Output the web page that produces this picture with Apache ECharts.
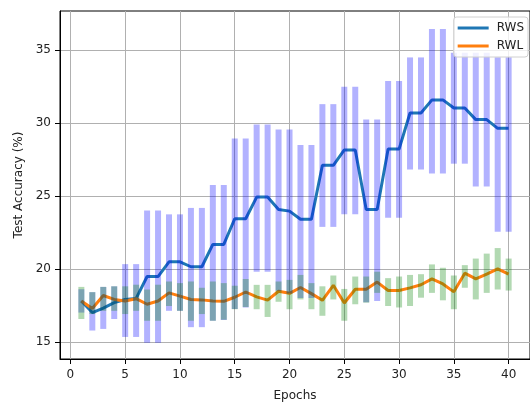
<!DOCTYPE html>
<html>
<head>
<meta charset="utf-8">
<script src="https://cdn.jsdelivr.net/npm/echarts@6/dist/echarts.min.js"></script>
<style>
html,body{margin:0;padding:0;background:#fff;}
#chart{width:530px;height:407px;}
</style>
</head>
<body>
<div id="chart"></div>
<script>
const epochs = [1,2,3,4,5,6,7,8,9,10,11,12,13,14,15,16,17,18,19,20,21,22,23,24,25,26,27,28,29,30,31,32,33,34,35,36,37,38,39,40];
const rwsMean = [17.79,17.0,17.3,17.68,17.9,17.97,19.47,19.47,20.48,20.48,20.14,20.14,21.67,21.67,23.43,23.43,24.91,24.91,24.06,23.95,23.39,23.39,27.09,27.09,28.14,28.14,24.06,24.06,28.2,28.2,30.67,30.67,31.57,31.57,31.01,31.01,30.22,30.22,29.62,29.62];
const rwsLow  = [17.0,15.77,15.88,16.56,15.33,15.33,14.93,14.93,17.12,17.12,16.0,16.0,16.44,16.5,17.25,17.35,19.8,19.8,18.5,18.3,18.0,18.0,22.87,22.87,23.73,23.73,17.7,17.8,23.5,23.5,26.8,26.8,26.53,26.53,27.2,27.2,25.63,25.63,22.54,22.54];
const rwsHigh = [18.6,18.4,18.76,18.8,20.32,20.32,24.0,24.0,23.73,23.73,24.17,24.17,25.74,25.74,28.92,28.92,29.89,29.89,29.55,29.55,28.48,28.48,31.28,31.28,32.47,32.47,30.22,30.22,32.87,32.87,34.48,34.48,36.43,36.43,34.8,34.8,34.8,34.8,34.5,34.5];
const rwlMean = [17.79,17.28,18.17,17.9,17.79,17.95,17.57,17.79,18.35,18.13,17.9,17.87,17.79,17.77,18.05,18.41,18.08,17.85,18.46,18.32,18.72,18.3,17.84,18.87,17.66,18.6,18.6,19.09,18.51,18.51,18.69,18.91,19.31,18.96,18.42,19.7,19.31,19.63,19.99,19.63];
const rwlLow  = [16.56,16.9,17.12,17.12,16.9,17.12,16.44,16.44,17.45,17.12,16.44,16.9,16.44,16.51,17.23,17.38,17.23,16.7,17.74,17.23,17.9,17.23,16.78,17.9,16.44,17.57,17.68,18.35,17.45,17.35,17.45,18.02,18.35,17.84,17.23,18.7,17.9,18.35,18.58,18.51];
const rwlHigh = [18.76,18.4,18.76,18.8,18.8,18.91,18.58,18.91,19.13,19.02,19.13,18.7,19.13,19.02,18.84,19.3,18.9,18.9,19.13,19.24,19.58,19.02,18.8,19.54,18.62,19.47,19.47,19.8,19.36,19.47,19.58,19.63,20.3,20.07,19.54,20.25,20.7,21.04,21.42,20.7];
const xTicks = [0,5,10,15,20,25,30,35,40];
const yTicks = [15,20,25,30,35];

const FONT = 'DejaVu Sans';
const chart = echarts.init(document.getElementById('chart'), null, {renderer:'canvas'});

function barRender(color){
  return function(params, api){
    const x = api.value(0);
    const lo = api.coord([x, api.value(1)]);
    const hi = api.coord([x, api.value(2)]);
    const w = 6;
    return {type:'rect', shape:{x: lo[0]-w/2, y: hi[1], width: w, height: lo[1]-hi[1]}, style:{fill: color}};
  };
}

const axisText = {color:'#222', fontFamily: FONT, fontSize: 12};

chart.setOption({
  animation: false,
  backgroundColor: '#fff',
  grid: {left: 60, top: 11, right: -6, bottom: 41, show: true, borderColor: '#000', borderWidth: 1, containLabel: false},
  legend: {
    data: ['RWS','RWL'],
    right: 2, top: 17, orient: 'vertical', align: 'left',
    icon: 'rect', itemWidth: 31, itemHeight: 3, itemGap: 6,
    padding: [5,4,5,4],
    backgroundColor: 'rgba(255,255,255,0.8)', borderColor: '#d0d0d0', borderWidth: 1, borderRadius: 3,
    textStyle: {color:'#222', fontFamily: FONT, fontSize: 12, padding:[0,0,0,3]}
  },
  xAxis: {
    type: 'value', min: -0.95, max: 41.95,
    name: 'Epochs', nameLocation: 'middle', nameGap: 31,
    nameTextStyle: axisText,
    axisLine: {show: true, onZero: false, lineStyle: {color:'#000', width: 1}},
    axisTick: {show: true, length: 5, customValues: xTicks, lineStyle: {color:'#000'}},
    axisLabel: Object.assign({customValues: xTicks, margin: 10, formatter: v => String(v)}, axisText),
    splitLine: {show: true, lineStyle: {color:'#b0b0b0', width: 1}}
  },
  yAxis: {
    type: 'value', min: 13.82, max: 37.66,
    name: 'Test Accuracy (%)', nameLocation: 'middle', nameGap: 31,
    nameTextStyle: axisText,
    axisLine: {show: true, onZero: false, lineStyle: {color:'#000', width: 1}},
    axisTick: {show: true, length: 5, customValues: yTicks, lineStyle: {color:'#000'}},
    axisLabel: Object.assign({customValues: yTicks, margin: 9, formatter: v => String(v)}, axisText),
    splitLine: {show: true, lineStyle: {color:'#b0b0b0', width: 1}}
  },
  series: [
    {name:'RWS', type:'line', z:2, symbol:'none', color:'#1f77b4',
     lineStyle:{color:'#1f77b4', width:3}, data: epochs.map((e,i)=>[e, rwsMean[i]])},
    {name:'RWL', type:'line', z:2, symbol:'none', color:'#ff7f0e',
     lineStyle:{color:'#ff7f0e', width:3}, data: epochs.map((e,i)=>[e, rwlMean[i]])},
    {name:'RWS err', type:'custom', z:3, clip:true, renderItem: barRender('rgba(0,0,255,0.3)'),
     encode:{x:0, y:[1,2]}, data: epochs.map((e,i)=>[e, rwsLow[i], rwsHigh[i]])},
    {name:'RWL err', type:'custom', z:3, clip:true, renderItem: barRender('rgba(0,128,0,0.3)'),
     encode:{x:0, y:[1,2]}, data: epochs.map((e,i)=>[e, rwlLow[i], rwlHigh[i]])}
  ]
});
</script>
</body>
</html>
